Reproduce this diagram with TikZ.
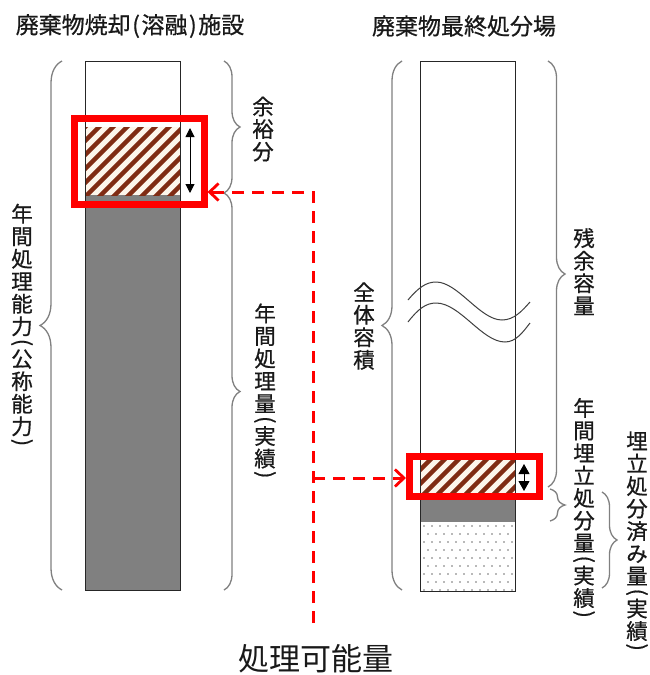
\documentclass[tikz,border=0pt]{standalone}
\usepackage{fontspec}
\setmainfont{Noto Sans CJK JP}
\newfontfamily\jpm{Noto Sans CJK JP}[FakeBold=0.6]
\usepackage{graphicx}
\usetikzlibrary{arrows.meta,decorations.pathreplacing}
\newcommand{\vtxt}[1]{\vbox{\baselineskip=0pt\lineskiplimit=0pt\lineskip=1pt\halign{\hfil\vrule height .88em depth .12em width 0pt##\hfil\cr#1\crcr}}}
\newcommand{\vlp}{\omit\hfil\vbox to 9pt{\vss\hbox{\rotatebox{-90}{(}}\vss}\hfil}
\newcommand{\vrp}{\omit\hfil\vbox to 9pt{\vss\hbox{\rotatebox{-90}{)}}\vss}\hfil}
\newcommand{\tp}[1]{\hspace{1.5pt}#1\hspace{1.5pt}}
\definecolor{hatchc}{RGB}{128,44,20}
\definecolor{hatchbg}{RGB}{253,246,236}
\definecolor{txt}{RGB}{25,25,25}
\begin{document}
\begin{tikzpicture}[x=1pt,y=-1pt,
  colbox/.style={draw=black!85,line width=1.2pt,inner sep=0pt,anchor=north west},
  grayarea/.style={fill=black!50},
  hatchline/.style={draw=hatchc,line width=4.4pt},
  redbox/.style={draw=red,line width=7pt,inner sep=0pt},
  bracestyle/.style={draw=black!50,line width=1.3pt,decorate},
  wave/.style={draw=black!75,line width=1pt},
  dblarrow/.style={draw=black,line width=1pt,{Triangle[length=9pt,width=9pt]}-{Triangle[length=9pt,width=9pt]}},
  dblarrowbig/.style={draw=black,line width=1pt,{Triangle[length=10pt,width=11pt]}-{Triangle[length=10pt,width=11pt]}},
  reddash/.style={draw=red,line width=3pt,dash pattern=on 12pt off 8pt,-{Straight Barb[length=9pt,width=17pt,line width=2.8pt]}},
  titlelab/.style={font=\jpm\fontsize{23}{26}\selectfont,text=txt,inner sep=0pt},
  vlab/.style={font=\jpm\fontsize{21.5}{24}\selectfont,text=txt,inner sep=0pt},
  biglab/.style={font=\fontsize{31}{35}\selectfont,text=txt,inner sep=0pt}]
\useasboundingbox (0,0) rectangle (650,675);
\fill[white] (0,0) rectangle (650,675);

% ---------- left column ----------
\fill[grayarea] (85,195) rectangle (180,590);
\begin{scope}
  \clip (85,127) rectangle (180,195);
  \fill[hatchbg] (85,127) rectangle (180,195);
  \foreach \a in {0,...,12} \draw[hatchline] ({12+14*\a},200) -- ++(80,-80);
\end{scope}
\node[colbox,minimum width=95pt,minimum height=529pt] (colL) at (85,61) {};
\node[redbox,minimum width=130pt,minimum height=86pt] (redL) at (139,161) {};
\coordinate (aLt) at (190,128);
\coordinate (aLb) at (190,193);
\draw[dblarrow] (aLt) -- (aLb);

% ---------- right column ----------
\fill[grayarea] (420,493) rectangle (515,522);
\begin{scope}
  \clip (420,459) rectangle (515,493);
  \fill[hatchbg] (420,459) rectangle (515,493);
  \foreach \a in {0,...,10} \draw[hatchline] ({376+14*\a},500) -- ++(50,-50);
\end{scope}
\foreach \yy in {526,542,...,590} \foreach \xx in {424,432,...,512} \fill[black!55] (\xx,\yy) circle (0.9);
\foreach \yy in {534,550,...,590} \foreach \xx in {428,436,...,512} \fill[black!55] (\xx,\yy) circle (0.9);
\node[colbox,minimum width=95pt,minimum height=530pt] (colR) at (420,61) {};
\draw[wave] (408,300) .. controls (418,288) and (426,282) .. (436,282)
   .. controls (458,282) and (480,320) .. (502,320)
   .. controls (514,320) and (522,311) .. (530,302);
\draw[wave] (408,322) .. controls (418,309) and (426,303) .. (436,303)
   .. controls (460,303) and (482,342) .. (505,342)
   .. controls (516,342) and (523,332) .. (530,323);
\node[redbox,minimum width=130pt,minimum height=40pt] (redR) at (474.5,476.5) {};
\coordinate (aRt) at (524,464);
\coordinate (aRb) at (524,491);
\draw[dblarrowbig] (aRt) -- (aRb);

% ---------- braces ----------
\draw[bracestyle,decoration={brace,amplitude=22pt}] (62,590) -- (62,61);
\draw[bracestyle,decoration={brace,amplitude=16pt}] (224,61) -- (224,193);
\draw[bracestyle,decoration={brace,amplitude=16pt}] (224,193) -- (224,590);
\draw[bracestyle,decoration={brace,amplitude=20pt}] (402,590) -- (402,61);
\draw[bracestyle,decoration={brace,amplitude=17pt}] (548,61) -- (548,487);
\draw[bracestyle,decoration={brace,amplitude=15pt}] (550,489) -- (550,521);
\draw[bracestyle,decoration={brace,amplitude=15pt}] (602,492) -- (602,588);

% ---------- labels ----------
\node[titlelab] (tL) at (130,26) {廃棄物焼却\tp{(}溶融\tp{)}施設};
\node[titlelab] (tR) at (464,26) {廃棄物最終処分場};
\node[vlab] (lYoyu) at (263,129) {\vtxt{余\cr 裕\cr 分}};
\node[vlab] (lNou) at (22,325) {\vtxt{年\cr 間\cr 処\cr 理\cr 能\cr 力\cr \vlp\cr 公\cr 称\cr 能\cr 力\cr \vrp}};
\node[vlab] (lShori) at (265,391) {\vtxt{年\cr 間\cr 処\cr 理\cr 量\cr \vlp\cr 実\cr 績\cr \vrp}};
\node[vlab] (lZen) at (364,326) {\vtxt{全\cr 体\cr 容\cr 積}};
\node[vlab] (lZan) at (584,272) {\vtxt{残\cr 余\cr 容\cr 量}};
\node[vlab] (lUme) at (584,508) {\vtxt{年\cr 間\cr 埋\cr 立\cr 処\cr 分\cr 量\cr \vlp\cr 実\cr 績\cr \vrp}};
\node[vlab] (lSumi) at (637,541) {\vtxt{埋\cr 立\cr 処\cr 分\cr 済\cr み\cr 量\cr \vlp\cr 実\cr 績\cr \vrp}};
\node[biglab] (lKanou) at (316,659) {処理可能量};

% ---------- dashed connectors ----------
\coordinate (dbot) at (313,623);
\coordinate (dcorner) at (313,192);
\coordinate (djoin) at (313,478);
\draw[reddash] (dbot) -- (dcorner) -- (redL.east |- dcorner);
\draw[reddash] (djoin) -- (redR.west |- djoin);
\end{tikzpicture}
\end{document}
